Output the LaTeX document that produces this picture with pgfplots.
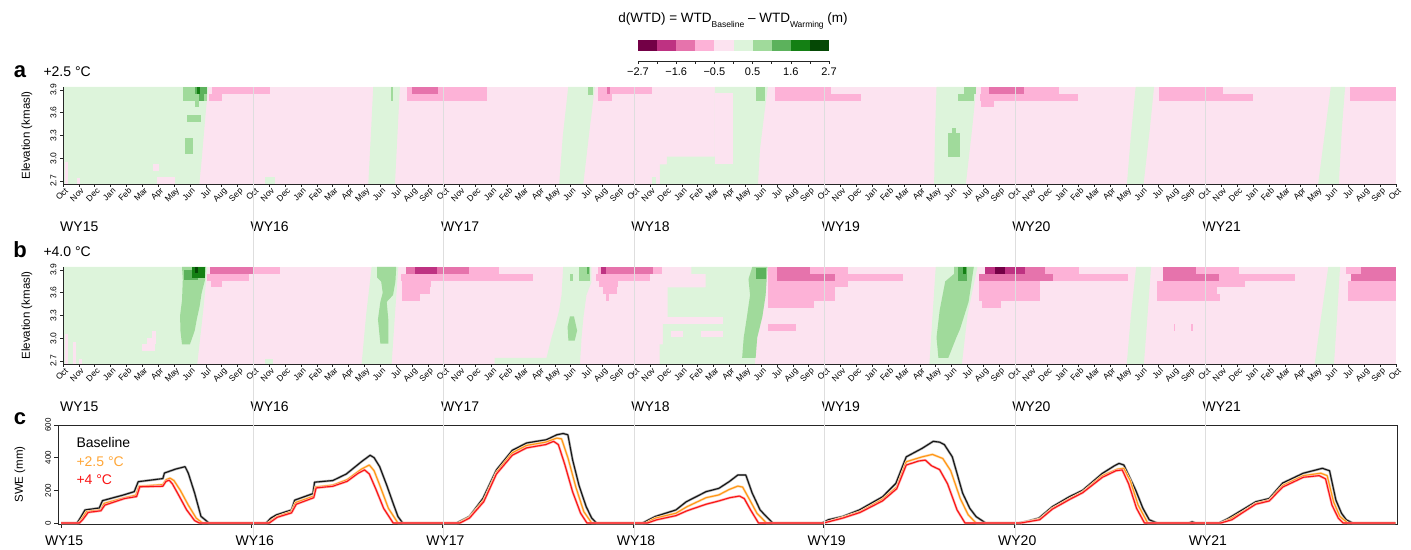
\documentclass[border=0pt]{standalone}
\usepackage{fontspec}
\setmainfont{Liberation Sans}
\usepackage{pgfplots}
\pgfplotsset{compat=1.18}

\definecolor{wtd1}{RGB}{115,0,70}
\definecolor{wtd2}{RGB}{190,50,130}
\definecolor{wtd3}{RGB}{230,115,172}
\definecolor{wtd4}{RGB}{253,178,215}
\definecolor{wtd5}{RGB}{252,227,240}
\definecolor{wtd6}{RGB}{221,244,219}
\definecolor{wtd7}{RGB}{160,218,155}
\definecolor{wtd8}{RGB}{92,178,92}
\definecolor{wtd9}{RGB}{20,128,20}
\definecolor{wtd10}{RGB}{5,72,5}
\definecolor{swebase}{RGB}{20,20,20}
\definecolor{swe25}{RGB}{255,150,20}
\definecolor{swe4}{RGB}{250,20,20}

% one filled cell: colour, month from, month to, elevation from, elevation to
\newcommand{\cell}[5]{\addplot[fill=#1,draw=none] coordinates {(#2,#4) (#3,#4) (#3,#5) (#2,#5)};}
\newcommand{\fs}[1]{\fontsize{#1}{#1}\selectfont}

\tikzset{wy/.style={anchor=west, font=\fs{14}, inner sep=0pt, yshift=-43pt, xshift=-3pt}}

\pgfplotsset{
  heat/.style={
    anchor=south west, scale only axis, width=1333pt, height=97pt,
    xmin=0, xmax=84, ymin=2.66, ymax=3.94,
    axis lines=left, axis line style={-, black!85, line width=0.8pt},
    axis on top, clip=false,
    tick align=outside, major tick length=3pt,
    tick style={black!85, line width=0.6pt},
    xtick={0,...,84},
    xticklabel={\pgfmathtruncatemacro{\mi}{mod(\tick+0.1,12)}\ifcase\mi Oct\or Nov\or Dec\or Jan\or Feb\or Mar\or Apr\or May\or Jun\or Jul\or Aug\or Sep\fi},
    xticklabel style={rotate=45, anchor=north east, font=\fs{8.5}, inner sep=1pt, xshift=2pt},
    ytick={2.7,3.0,3.3,3.6,3.9},
    yticklabels={2.7,3.0,3.3,3.6,3.9},
    yticklabel style={rotate=90, anchor=south, font=\fs{8.5}},
    ylabel={Elevation (kmasl)},
    ylabel style={at={(axis description cs:-0.027,0.5)}, anchor=center, font=\fs{11.5}},
  },
  swe/.style={draw=#1, line width=1.1pt, line join=round, preaction={draw=#1!35, line width=2.4pt}},
}

\newcommand{\wynodes}{%
  \node[wy] at (axis cs:0,2.66) {WY15};
  \node[wy] at (axis cs:12,2.66) {WY16};
  \node[wy] at (axis cs:24,2.66) {WY17};
  \node[wy] at (axis cs:36,2.66) {WY18};
  \node[wy] at (axis cs:48,2.66) {WY19};
  \node[wy] at (axis cs:60,2.66) {WY20};
  \node[wy] at (axis cs:72,2.66) {WY21};}

\begin{document}
\begin{tikzpicture}
\useasboundingbox (0,0) rectangle (1411pt,549pt);

% title and colour bar
\node[anchor=base, font=\fs{13.5}] at (733pt,526pt)
  {d(WTD) = WTD\raisebox{-4.5pt}{\fs{8.5}Baseline} – WTD\raisebox{-4.5pt}{\fs{8.5}Warming} (m)};
\begin{axis}[at={(638pt,488pt)}, anchor=south west, scale only axis,
  width=191pt, height=21pt, xmin=-2.7, xmax=2.7, ymin=0, ymax=1,
  axis x line*=bottom, axis y line=none, axis line style={-, black!85, line width=0.8pt},
  tick align=outside, major tick length=3pt, tick style={black!85, line width=0.6pt},
  xtick={-2.7,-2.16,-1.62,-1.08,-0.54,0,0.54,1.08,1.62,2.16,2.7},
  xticklabels={−2.7,,−1.6,,−0.5,,0.5,,1.6,,2.7},
  xticklabel style={font=\fs{11}}]
\cell{wtd1}{-2.7}{-2.16}{0.48}{1}
\cell{wtd2}{-2.16}{-1.62}{0.48}{1}
\cell{wtd3}{-1.62}{-1.08}{0.48}{1}
\cell{wtd4}{-1.08}{-0.54}{0.48}{1}
\cell{wtd5}{-0.54}{0}{0.48}{1}
\cell{wtd6}{0}{0.54}{0.48}{1}
\cell{wtd7}{0.54}{1.08}{0.48}{1}
\cell{wtd8}{1.08}{1.62}{0.48}{1}
\cell{wtd9}{1.62}{2.16}{0.48}{1}
\cell{wtd10}{2.16}{2.7}{0.48}{1}
\end{axis}

% panel a: +2.5 C
\node[anchor=base, font=\bfseries\fs{22}] at (20pt,471pt) {a};
\node[anchor=base west, font=\fs{14}] at (40pt,472pt) {+2.5 °C};
\begin{axis}[heat, at={(63pt,365pt)}]
\cell{wtd5}{0}{84}{2.66}{3.94}
\addplot[fill=wtd6,draw=none] coordinates {(0,2.66) (8.59,2.66) (8.74,2.98) (9.01,3.64) (9.16,3.94) (0,3.94)};
\addplot[fill=wtd6,draw=none] coordinates {(19.24,2.66) (20.92,2.66) (21.1,3.4) (21.23,3.94) (19.55,3.94) (19.4,3.3)};
\addplot[fill=wtd6,draw=none] coordinates {(31.27,2.66) (32.79,2.66) (33.2,3.4) (33.52,3.94) (31.84,3.94) (31.5,3.3)};
\addplot[fill=wtd6,draw=none] coordinates {(37.62,2.66) (43.8,2.66) (43.92,3.11) (44.23,3.64) (44.42,3.94) (41.08,3.94) (41.08,3.02) (38.06,3.02) (38.06,2.92) (37.62,2.92)};
\addplot[fill=wtd6,draw=none] coordinates {(54.9,2.66) (56.9,2.66) (57.3,3.4) (57.56,3.94) (55.05,3.94) (54.95,3.3)};
\addplot[fill=wtd6,draw=none] coordinates {(67.05,2.66) (68.1,2.66) (68.5,3.4) (68.76,3.94) (67.6,3.94) (67.3,3.3)};
\addplot[fill=wtd6,draw=none] coordinates {(79.1,2.66) (80.4,2.66) (80.6,3.4) (80.8,3.94) (79.9,3.94) (79.5,3.3)};
\cell{wtd5}{41.08}{42.22}{2.93}{3.86}
\cell{wtd5}{0.13}{0.32}{2.66}{2.95}
\cell{wtd5}{0.9}{1.1}{2.66}{2.74}
\cell{wtd5}{5.7}{6.05}{2.83}{2.93}
\cell{wtd5}{5.9}{7.05}{2.66}{2.75}
\cell{wtd6}{12.73}{13.36}{2.66}{2.75}
\cell{wtd6}{37.1}{37.4}{2.66}{2.75}
\cell{wtd7}{7.58}{9.05}{3.76}{3.94}
\cell{wtd7}{8.32}{8.57}{3.67}{3.76}
\cell{wtd7}{7.79}{8.68}{3.48}{3.57}
\cell{wtd7}{7.7}{8.2}{3.05}{3.27}
\cell{wtd7}{20.7}{20.8}{3.76}{3.94}
\cell{wtd7}{33.1}{33.4}{3.84}{3.94}
\cell{wtd7}{43.67}{44.23}{3.76}{3.94}
\cell{wtd7}{56.77}{57.56}{3.85}{3.94}
\cell{wtd7}{56.4}{57.4}{3.76}{3.85}
\cell{wtd7}{55.75}{56.5}{3.02}{3.33}
\cell{wtd7}{56.0}{56.25}{3.33}{3.40}
\cell{wtd8}{8.3}{9.05}{3.85}{3.94}
\cell{wtd8}{8.6}{8.9}{3.76}{3.85}
\cell{wtd9}{8.45}{8.65}{3.85}{3.94}
\cell{wtd4}{9.37}{13.04}{3.85}{3.94}
\cell{wtd4}{9.22}{10.0}{3.76}{3.85}
\cell{wtd4}{21.66}{26.7}{3.76}{3.94}
\cell{wtd4}{33.73}{37.1}{3.85}{3.94}
\cell{wtd4}{33.73}{34.57}{3.76}{3.85}
\cell{wtd4}{44.87}{48.4}{3.85}{3.94}
\cell{wtd4}{44.87}{50.26}{3.76}{3.85}
\cell{wtd4}{57.88}{62.8}{3.85}{3.94}
\cell{wtd4}{57.8}{63.95}{3.76}{3.85}
\cell{wtd4}{57.88}{58.7}{3.67}{3.76}
\cell{wtd4}{69.05}{73.1}{3.85}{3.94}
\cell{wtd4}{69.05}{75.0}{3.76}{3.85}
\cell{wtd4}{81.1}{84}{3.76}{3.94}
\cell{wtd3}{21.97}{23.65}{3.85}{3.94}
\cell{wtd3}{34.3}{34.5}{3.85}{3.94}
\cell{wtd3}{58.37}{60.58}{3.85}{3.94}
\coordinate (wy1) at (axis cs:12,3.94);
\coordinate (wy2) at (axis cs:24,3.94);
\coordinate (wy3) at (axis cs:36,3.94);
\coordinate (wy4) at (axis cs:48,3.94);
\coordinate (wy5) at (axis cs:60,3.94);
\coordinate (wy6) at (axis cs:72,3.94);
\wynodes
\end{axis}

% panel b: +4.0 C
\node[anchor=base, font=\bfseries\fs{22}] at (20pt,291pt) {b};
\node[anchor=base west, font=\fs{14}] at (40pt,292pt) {+4.0 °C};
\begin{axis}[heat, at={(63pt,185pt)}]
\cell{wtd5}{0}{84}{2.66}{3.94}
\addplot[fill=wtd6,draw=none] coordinates {(0,2.66) (8.46,2.66) (8.84,3.37) (9.1,3.94) (0,3.94)};
\addplot[fill=wtd6,draw=none] coordinates {(18.82,2.66) (20.71,2.66) (20.95,3.4) (21.13,3.94) (19.45,3.94) (19.1,3.3)};
\addplot[fill=wtd6,draw=none] coordinates {(27.2,2.66) (32.58,2.66) (32.68,3.01) (32.8,3.28) (32.99,3.57) (33.3,3.74) (33.3,3.94) (31.52,3.94) (31.42,3.57) (31.27,3.37) (31.1,3.23) (30.79,3.01) (30.47,2.74) (27.2,2.74)};
\addplot[fill=wtd6,draw=none] coordinates {(37.6,2.66) (43.6,2.66) (43.75,3.01) (44.07,3.28) (44.28,3.57) (44.34,3.94) (39.6,3.94) (39.6,3.85) (40.5,3.85) (40.5,3.67) (38.1,3.67) (38.1,3.19) (37.8,3.19) (37.8,2.92) (37.6,2.92)};
\addplot[fill=wtd6,draw=none] coordinates {(54.6,2.66) (56.65,2.66) (57.0,3.3) (57.26,3.57) (57.63,3.94) (55.0,3.94) (54.8,3.3)};
\addplot[fill=wtd6,draw=none] coordinates {(67.04,2.66) (68.12,2.66) (68.35,3.3) (68.57,3.94) (67.63,3.94) (67.3,3.3)};
\addplot[fill=wtd6,draw=none] coordinates {(78.88,2.66) (80.1,2.66) (80.3,3.3) (80.48,3.94) (79.74,3.94) (79.3,3.3)};
\cell{wtd5}{37.8}{41.6}{3.19}{3.28}
\cell{wtd5}{38.3}{39.1}{3.01}{3.10}
\cell{wtd5}{40.2}{41.6}{3.01}{3.10}
\cell{wtd5}{0.1}{0.3}{2.66}{3.05}
\cell{wtd5}{0.6}{0.8}{2.66}{2.95}
\cell{wtd5}{1.0}{1.2}{2.66}{2.73}
\cell{wtd5}{4.96}{5.8}{2.83}{2.92}
\cell{wtd5}{5.3}{5.85}{2.92}{3.0}
\cell{wtd5}{5.6}{5.85}{3.0}{3.10}
\cell{wtd6}{12.73}{13.25}{2.66}{2.73}
\addplot[fill=wtd7,draw=none] coordinates {(7.5,3.94) (9.0,3.94) (8.95,3.77) (8.74,3.6) (8.6,3.41) (8.43,3.25) (8.3,3.10) (8.0,2.92) (7.5,2.92) (7.4,3.10) (7.38,3.3) (7.5,3.5) (7.55,3.77)};
\addplot[fill=wtd7,draw=none] coordinates {(19.8,3.94) (21.0,3.94) (20.95,3.75) (20.8,3.57) (20.4,3.48) (20.5,3.25) (20.5,2.93) (20.0,2.93) (19.85,3.25) (20.0,3.48) (20.15,3.6) (20.05,3.75) (19.8,3.80)};
\addplot[fill=wtd7,draw=none] coordinates {(31.95,3.29) (32.2,3.29) (32.4,3.1) (32.25,2.97) (31.85,2.97) (31.8,3.15)};
\addplot[fill=wtd7,draw=none] coordinates {(43.44,3.94) (44.4,3.94) (44.28,3.57) (44.07,3.28) (43.75,3.01) (43.65,2.74) (42.8,2.74) (42.9,3.01) (43.1,3.28) (43.3,3.57) (43.2,3.78)};
\addplot[fill=wtd7,draw=none] coordinates {(56.16,3.94) (57.4,3.94) (57.07,3.48) (56.53,3.12) (56.3,3.01) (55.79,2.74) (55.17,2.74) (55.05,3.01) (55.25,3.37) (55.6,3.75) (56.16,3.85)};
\cell{wtd7}{31.95}{32.16}{3.76}{3.85}
\cell{wtd7}{32.5}{33.2}{3.76}{3.94}
\cell{wtd8}{7.6}{8.5}{3.77}{3.90}
\cell{wtd8}{43.65}{44.28}{3.78}{3.93}
\cell{wtd8}{56.4}{57.0}{3.75}{3.94}
\cell{wtd8}{33.0}{33.15}{3.85}{3.94}
\cell{wtd9}{8.1}{8.95}{3.79}{3.94}
\cell{wtd9}{56.7}{56.9}{3.85}{3.94}
\cell{wtd10}{8.3}{8.5}{3.86}{3.94}
\cell{wtd4}{12.0}{13.68}{3.85}{3.94}
\cell{wtd4}{9.05}{11.7}{3.76}{3.85}
\cell{wtd4}{9.3}{10.0}{3.67}{3.76}
\cell{wtd4}{21.3}{29.6}{3.76}{3.85}
\cell{wtd4}{25.6}{27.5}{3.85}{3.94}
\cell{wtd4}{21.4}{23.2}{3.67}{3.76}
\cell{wtd4}{21.5}{23.1}{3.58}{3.67}
\cell{wtd4}{21.6}{22.5}{3.49}{3.58}
\cell{wtd4}{21.35}{21.7}{3.49}{3.76}
\cell{wtd4}{33.6}{37.0}{3.76}{3.85}
\cell{wtd4}{33.7}{37.72}{3.85}{3.94}
\cell{wtd4}{33.8}{35.0}{3.67}{3.76}
\cell{wtd4}{34.0}{34.9}{3.58}{3.67}
\cell{wtd4}{34.2}{34.4}{3.49}{3.58}
\cell{wtd4}{44.4}{49.5}{3.67}{3.94}
\cell{wtd4}{48.66}{52.96}{3.76}{3.85}
\cell{wtd4}{44.4}{48.66}{3.49}{3.67}
\cell{wtd4}{44.4}{47.3}{3.40}{3.49}
\cell{wtd4}{44.4}{46.2}{3.10}{3.19}
\cell{wtd4}{61.9}{64.0}{3.85}{3.94}
\cell{wtd4}{62.4}{67.1}{3.76}{3.85}
\cell{wtd4}{57.75}{61.6}{3.49}{3.76}
\cell{wtd4}{57.9}{59.1}{3.40}{3.49}
\cell{wtd4}{71.4}{74.1}{3.85}{3.94}
\cell{wtd4}{72.86}{77.66}{3.76}{3.85}
\cell{wtd4}{68.93}{74.46}{3.67}{3.76}
\cell{wtd4}{68.93}{72.75}{3.58}{3.67}
\cell{wtd4}{68.93}{72.9}{3.49}{3.58}
\cell{wtd4}{70.0}{70.1}{3.10}{3.19}
\cell{wtd4}{71.1}{71.2}{3.10}{3.19}
\cell{wtd4}{80.85}{84}{3.85}{3.94}
\cell{wtd4}{80.97}{84}{3.49}{3.76}
\cell{wtd3}{9.26}{12.0}{3.85}{3.94}
\cell{wtd3}{21.6}{25.6}{3.85}{3.94}
\cell{wtd3}{34.0}{37.2}{3.85}{3.94}
\cell{wtd3}{44.97}{47.07}{3.85}{3.94}
\cell{wtd3}{44.97}{48.66}{3.76}{3.85}
\cell{wtd3}{60.6}{61.9}{3.85}{3.94}
\cell{wtd3}{57.75}{62.4}{3.76}{3.85}
\cell{wtd3}{69.3}{71.4}{3.85}{3.94}
\cell{wtd3}{69.3}{72.86}{3.76}{3.85}
\cell{wtd3}{81.83}{84}{3.85}{3.94}
\cell{wtd3}{81.2}{84}{3.76}{3.85}
\cell{wtd2}{22.2}{23.55}{3.85}{3.94}
\cell{wtd2}{33.9}{34.2}{3.85}{3.94}
\cell{wtd2}{58.1}{60.6}{3.85}{3.94}
\cell{wtd1}{58.74}{59.35}{3.85}{3.94}
\wynodes
\end{axis}

% panel c: snow water equivalent
\node[anchor=base, font=\bfseries\fs{22}] at (20pt,124pt) {c};
\begin{axis}[at={(58pt,25pt)}, anchor=south west, scale only axis,
  width=1339pt, height=99pt, xmin=-0.2, xmax=84.1, ymin=-6, ymax=600,
  axis line style={black!85, line width=0.8pt},
  tick align=outside, major tick length=3.5pt, tick style={black!85, line width=0.6pt},
  tick pos=left,
  xtick={0,12,24,36,48,60,72}, xticklabels={WY15,WY16,WY17,WY18,WY19,WY20,WY21},
  xticklabel style={font=\fs{14}, xshift=3pt}, xticklabel shift=5pt,
  ytick={0,200,400,600}, yticklabels={0,200,400,600},
  yticklabel style={rotate=90, anchor=south, font=\fs{8}},
  ylabel={SWE (mm)},
  ylabel style={at={(axis description cs:-0.0284,0.5)}, anchor=center, font=\fs{11.5}}]
\addplot[swe=swebase] coordinates {
 (0,0) (1.0,0) (1.2,30) (1.5,80) (2.4,92) (2.6,137) (3.9,171) (4.6,192) (4.85,253) (6.4,272) (6.5,306) (7.2,330) (7.8,345) (8.0,306) (8.4,184) (8.8,41) (9.3,0)
 (12.9,0) (13.2,30) (13.55,50) (14.5,80) (14.7,140) (15.85,180) (15.95,250) (17.1,260) (17.95,300) (18.9,375) (19.45,415) (19.7,400) (20.05,345) (20.5,230) (20.9,120) (21.2,40) (21.5,0)
 (24.9,0) (25.2,15) (25.7,40) (26.55,150) (27.4,325) (28.4,445) (29.3,490) (30.55,510) (31.2,540) (31.6,548) (31.9,540) (32.2,385) (32.6,230) (33.05,100) (33.4,30) (33.7,0)
 (36.6,0) (37.0,20) (37.4,40) (38.7,80) (39.35,130) (40.6,192) (41.4,212) (42.05,253) (42.6,294) (43.1,294) (43.5,184) (44.0,80) (44.4,39) (44.8,0)
 (47.9,0) (48.3,20) (49.2,40) (50.25,80) (51.7,160) (52.55,243) (53.2,405) (54.2,457) (54.9,500) (55.3,495) (55.6,480) (56.1,405) (56.75,183) (57.2,90) (57.6,39) (58.2,0)
 (60.3,0) (60.8,10) (61.55,30) (62.4,100) (63.45,160) (64.3,200) (65.55,304) (66.3,350) (66.6,365) (66.9,355) (67.65,200) (68.1,90) (68.5,20) (69.0,0)
 (71.0,0) (71.2,8) (71.4,0)
 (72.9,0) (73.5,30) (74.35,80) (75.2,130) (76.05,150) (76.9,245) (78.2,305) (79.4,335) (79.85,320) (80.25,140) (80.6,60) (80.9,20) (81.3,0) (84,0)};
\addplot[swe=swe25] coordinates {
 (0,0) (1.1,0) (1.3,25) (1.6,70) (2.5,80) (2.7,120) (4.0,155) (4.7,170) (4.9,225) (6.4,235) (6.6,265) (6.85,275) (7.1,260) (7.5,200) (8.0,110) (8.5,30) (8.9,0)
 (13.0,0) (13.6,40) (14.5,70) (14.75,125) (15.9,165) (16.0,220) (17.1,232) (18.0,265) (18.9,330) (19.4,355) (19.7,320) (20.1,220) (20.6,90) (21.2,0)
 (25.0,0) (25.7,35) (26.6,140) (27.4,310) (28.4,430) (29.3,475) (30.5,495) (31.2,520) (31.5,515) (31.9,400) (32.4,220) (32.9,70) (33.4,0)
 (36.8,0) (37.4,30) (38.7,60) (39.4,100) (40.6,155) (41.4,172) (42.05,205) (42.6,226) (42.9,220) (43.3,150) (43.8,60) (44.4,0)
 (48.0,0) (49.2,35) (50.3,70) (51.7,145) (52.6,220) (53.2,375) (54.2,405) (54.85,420) (55.5,395) (56.0,320) (56.6,150) (57.1,50) (57.6,0)
 (60.4,0) (61.6,25) (62.4,90) (63.5,150) (64.3,190) (65.55,290) (66.5,330) (66.9,335) (67.3,260) (67.8,110) (68.4,0)
 (73.0,0) (73.6,25) (74.4,70) (75.2,120) (76.05,140) (76.9,230) (78.2,290) (79.3,305) (79.7,290) (80.1,130) (80.5,40) (81.0,0) (84,0)};
\addplot[swe=swe4] coordinates {
 (0,0) (1.15,0) (1.35,20) (1.7,65) (2.5,75) (2.75,110) (4.0,150) (4.75,162) (4.95,222) (6.4,225) (6.6,255) (6.8,262) (7.0,240) (7.4,170) (7.9,80) (8.4,15) (8.7,0)
 (13.1,0) (13.6,35) (14.5,62) (14.8,115) (15.9,155) (16.05,215) (17.1,225) (18.0,255) (18.7,305) (19.1,325) (19.4,300) (19.8,210) (20.3,90) (20.9,0)
 (25.1,0) (25.7,30) (26.6,130) (27.4,300) (28.4,415) (29.3,460) (30.5,480) (31.0,500) (31.3,480) (31.7,360) (32.2,190) (32.7,60) (33.1,0)
 (36.9,0) (37.5,20) (38.7,45) (39.4,75) (40.6,115) (41.4,135) (42.1,155) (42.7,165) (43.0,150) (43.4,80) (43.9,0)
 (48.0,0) (49.2,30) (50.3,65) (51.7,135) (52.6,210) (53.2,355) (54.0,380) (54.4,385) (54.8,350) (55.3,327) (55.8,240) (56.4,80) (56.9,0)
 (60.4,0) (61.6,20) (62.4,85) (63.5,145) (64.3,185) (65.55,280) (66.4,320) (66.8,325) (67.2,240) (67.7,90) (68.2,0)
 (73.0,0) (73.7,20) (74.4,65) (75.2,115) (76.05,135) (76.9,220) (78.2,280) (79.2,290) (79.6,270) (80.0,110) (80.4,30) (80.7,0) (84,0)};
\node[anchor=base west, font=\fs{14}, text=black] at (rel axis cs:0.0112,0.768) {Baseline};
\node[anchor=base west, font=\fs{14}, text=swe25!85!white] at (rel axis cs:0.0112,0.579) {+2.5 °C};
\node[anchor=base west, font=\fs{14}, text=swe4] at (rel axis cs:0.0112,0.394) {+4 °C};
\end{axis}

% water-year boundaries through all panels
\foreach \k in {1,...,6} {\draw[black!13, line width=0.7pt] (wy\k) -- ++(0,-450pt);}
\end{tikzpicture}
\end{document}
